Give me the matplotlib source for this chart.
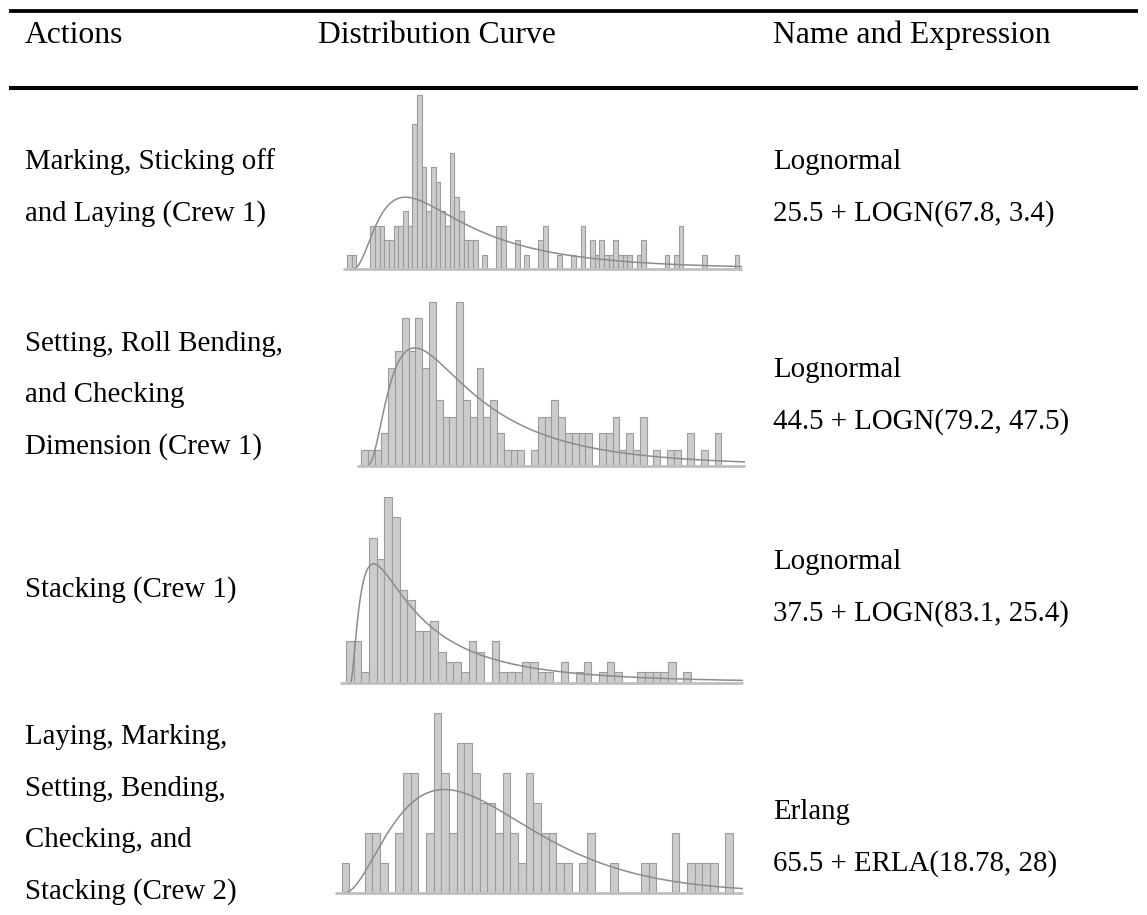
#!/usr/bin/env python3
import numpy as np
import matplotlib; matplotlib.use("Agg")
import matplotlib.pyplot as plt
plt.rcParams.update({"font.family":["Liberation Serif","DejaVu Serif"],"font.size":20.8})

W,H=1147,915
headers=["Actions","Distribution Curve","Name and Expression"]
actions=[["Marking, Sticking off","and Laying (Crew 1)"],
         ["Setting, Roll Bending,","and Checking","Dimension (Crew 1)"],
         ["Stacking (Crew 1)"],
         ["Laying, Marking,","Setting, Bending,","Checking, and","Stacking (Crew 2)"]]
dist_names=["Lognormal","Lognormal","Lognormal","Erlang"]
expressions=["25.5 + LOGN(67.8, 3.4)","44.5 + LOGN(79.2, 47.5)",
             "37.5 + LOGN(83.1, 25.4)","65.5 + ERLA(18.78, 28)"]

# histogram counts per bin, left to right
counts1=[1,1,0,0,0,3,3,3,2,2,3,3,4,3,10,12,7,4,7,6,4,3,8,5,4,2,2,2,0,1,0,0,3,3,0,0,2,0,1,0,
         0,2,3,0,0,1,0,0,1,0,3,0,2,1,2,1,1,2,1,1,1,0,1,2,0,0,0,0,1,0,1,3,0,0,0,0,1,0,0,0,
         0,0,0,1]
counts2=[1,1,1,2,6,7,9,7,9,6,10,4,3,3,10,4,3,6,3,4,2,1,1,1,0,1,3,3,4,3,2,2,2,2,0,2,2,3,1,2,
         1,3,0,1,0,1,1,0,2,0,1,0,2]
counts3=[4,4,1,14,12,18,16,9,8,5,5,6,3,2,2,1,4,3,0,4,1,1,1,2,2,1,1,0,2,0,1,2,0,1,2,1,0,0,1,1,
         1,1,2,0,1]
counts4=[1,0,0,2,2,1,0,2,4,4,0,2,6,4,2,5,5,4,3,3,2,4,2,1,4,3,2,2,1,1,0,1,2,0,0,1,0,0,0,1,
         1,0,0,2,0,1,1,1,1,0,2]
hist_counts=[counts1,counts2,counts3,counts4]

# fitted density curves (bin units): kind, start, mode, shape, peak height
fits=[("logn",0.5,12.0,0.75,4.95),("logn",0.5,7.4,0.78,7.2),
      ("logn",0.5,3.1,1.0,11.5),("erla",0.4,13.0,3,3.44)]

# layout in pixels: bin0 left, bin width, baseline y, px per count, x-range in bins, ymax
boxes=[(347,4.67,269,14.5,-0.9,84.6,12.6),(361,6.8,466,16.4,-0.6,56.5,10.6),
       (346,7.67,682.7,10.33,-0.8,51.8,18.6),(341.7,7.67,892.7,30,-0.9,52.3,6.4)]
left_base=[169,351,597,744]; right_base=[169,377,569,819]; lh=51.5
colx=[25,318,773]

def curve(kind,x0,m,k,pk,x):
    t=np.clip(x-x0,1e-6,None)
    if kind=="logn":
        r=(m/t)*np.exp(-(np.log(t/m)-k*k)**2/(2*k*k)+k*k/2)
    else:
        th=m/(k-1); r=(t/m)**(k-1)*np.exp(-(t-m)/th)
    return np.where(x>x0,pk*r,0)

fig=plt.figure(figsize=(W/100,H/100),dpi=100)
tx=fig.add_axes([0,0,1,1]); tx.set_xlim(0,W); tx.set_ylim(H,0); tx.axis("off")
tx.plot([9,1138],[10.8,10.8],color="k",lw=2.7,solid_capstyle="butt")
tx.plot([9,1138],[88,88],color="k",lw=2.9,solid_capstyle="butt")
for x,h in zip(colx,headers):
    tx.text(x,42.7,h,va="baseline",ha="left",fontsize=22.8)
for i in range(4):
    for j,s in enumerate(actions[i]):
        tx.text(colx[0],left_base[i]+j*lh,s,va="baseline")
    tx.text(colx[2],right_base[i],dist_names[i],va="baseline")
    tx.text(colx[2],right_base[i]+lh,expressions[i],va="baseline")

for c,fit,(x0,bw,yb,u,xl,xr,ym) in zip(hist_counts,fits,boxes):
    ax=fig.add_axes([(x0+xl*bw)/W,(H-yb)/H,(xr-xl)*bw/W,ym*u/H])
    ax.set_xlim(xl,xr); ax.set_ylim(0,ym); ax.axis("off")
    c=np.array(c); idx=np.nonzero(c)[0]
    ax.bar(idx,c[idx],width=1,align="edge",color="#cccccc",edgecolor="#9c9c9c",lw=0.8,zorder=2)
    xs=np.linspace(fit[1],xr,600)
    ax.plot(xs,curve(*fit,xs),color="#8c8c8c",lw=1.1,zorder=3)
    ax.plot([xl,xr],[0,0],color="#bfbfbf",lw=2.0,zorder=4,clip_on=False,solid_capstyle="butt")

fig.savefig("out.png",dpi=100)
